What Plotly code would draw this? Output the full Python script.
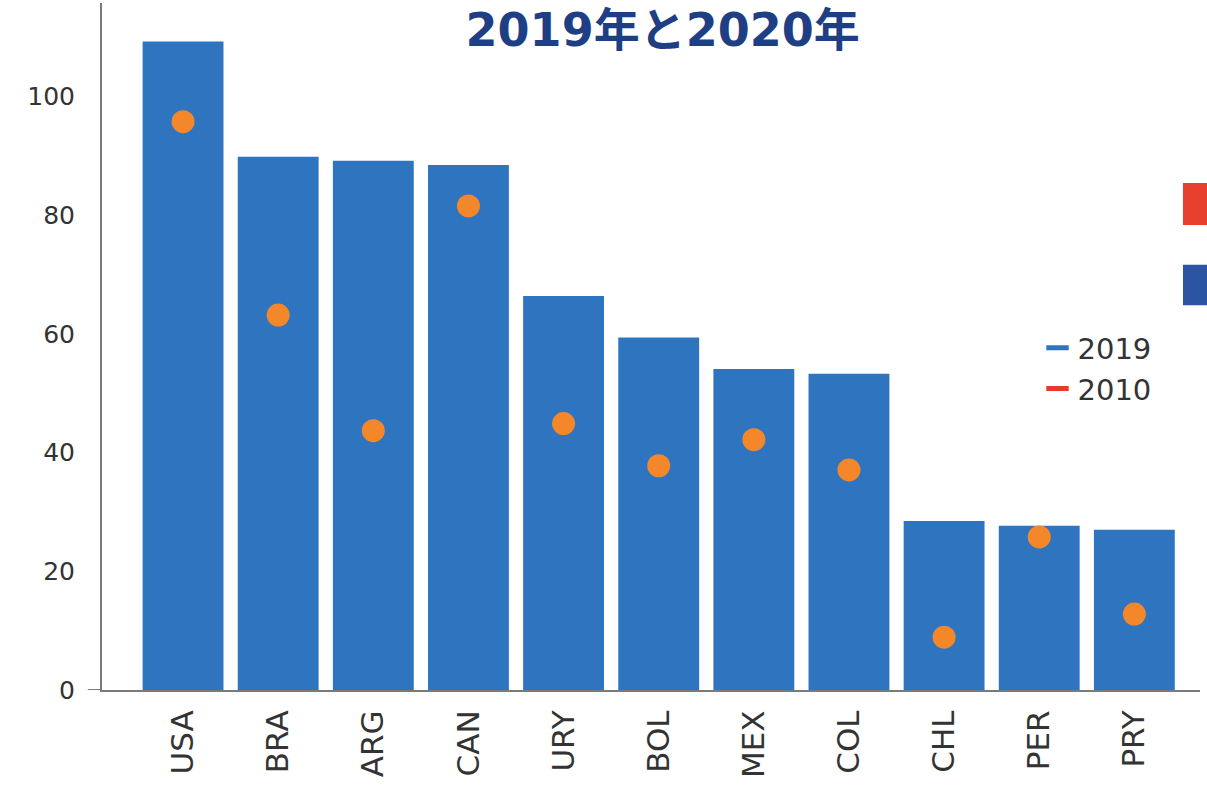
import plotly.graph_objects as go

countries = ["USA", "BRA", "ARG", "CAN", "URY", "BOL", "MEX", "COL", "CHL", "PER", "PRY"]
values_2019 = [109.3, 89.9, 89.2, 88.5, 66.4, 59.4, 54.1, 53.3, 28.5, 27.7, 27.0]
values_2010 = [95.8, 63.2, 43.7, 81.6, 44.9, 37.8, 42.2, 37.1, 8.9, 25.8, 12.8]
y_ticks = [0, 20, 40, 60, 80, 100]

BAR = "#2f74bf"
DOT = "#f5872b"
FONT = "DejaVu Sans"

fig = go.Figure()
fig.add_trace(go.Bar(
    x=countries, y=values_2019, name="2019",
    marker=dict(color=BAR, line=dict(width=0)),
    showlegend=False,
))
fig.add_trace(go.Scatter(
    x=countries, y=values_2010, mode="markers", name="2010",
    marker=dict(color=DOT, size=23, line=dict(width=0)),
    showlegend=False,
))
# legend entries
fig.add_trace(go.Scatter(
    x=[None], y=[None], mode="markers", name="2019",
    marker=dict(symbol="line-ew-open", size=18, line=dict(width=8, color=BAR), color=BAR),
))
fig.add_trace(go.Scatter(
    x=[None], y=[None], mode="markers", name="2010",
    marker=dict(symbol="line-ew-open", size=18, line=dict(width=8, color="#e8392f"), color="#e8392f"),
))

fig.update_layout(
    width=1207, height=786,
    margin=dict(l=102, r=7, t=3, b=96),
    paper_bgcolor="white", plot_bgcolor="white",
    bargap=0.15,
    font=dict(family=FONT, color="#333333"),
    title=dict(
        text="<b>2019年と2020年</b>",
        x=0.549, xanchor="center", y=0.962, yanchor="middle",
        xref="container", yref="container",
        font=dict(family="DejaVu Sans, Noto Sans CJK JP", size=46, color="#1f3f85"),
    ),
    xaxis=dict(
        range=[-0.852, 10.69],
        showline=True, linecolor="#7a7a7a", linewidth=2,
        showgrid=False, ticks="", tickangle=-90,
        tickfont=dict(family=FONT, size=31, color="#333333"),
        ticklabelstandoff=6,
    ),
    yaxis=dict(
        range=[0, 115.8],
        tickvals=y_ticks,
        showline=True, linecolor="#7a7a7a", linewidth=2,
        showgrid=False, zeroline=False, ticks="",
        tickfont=dict(family=FONT, size=25, color="#333333"),
        ticklabelstandoff=20,
    ),
    legend=dict(
        x=0.852, y=0.535, xanchor="left", yanchor="top",
        bgcolor="rgba(0,0,0,0)",
        font=dict(family=FONT, size=29, color="#333333"),
        itemwidth=30, tracegroupgap=0,
    ),
    shapes=[
        dict(type="line", xref="paper", yref="y", x0=-0.013, x1=0, y0=0, y1=0,
             line=dict(color="#7a7a7a", width=2)),
        dict(type="rect", xref="paper", yref="paper", x0=0.9845, x1=1.01, y0=0.677, y1=0.738,
             fillcolor="#e8402f", line=dict(width=0)),
        dict(type="rect", xref="paper", yref="paper", x0=0.9845, x1=1.01, y0=0.560, y1=0.619,
             fillcolor="#2b55a3", line=dict(width=0)),
    ],
)

fig.write_html(
    "out.html",
    config={"displayModeBar": False},
    post_script="document.body.style.margin='0';document.body.style.overflow='hidden';",
)
